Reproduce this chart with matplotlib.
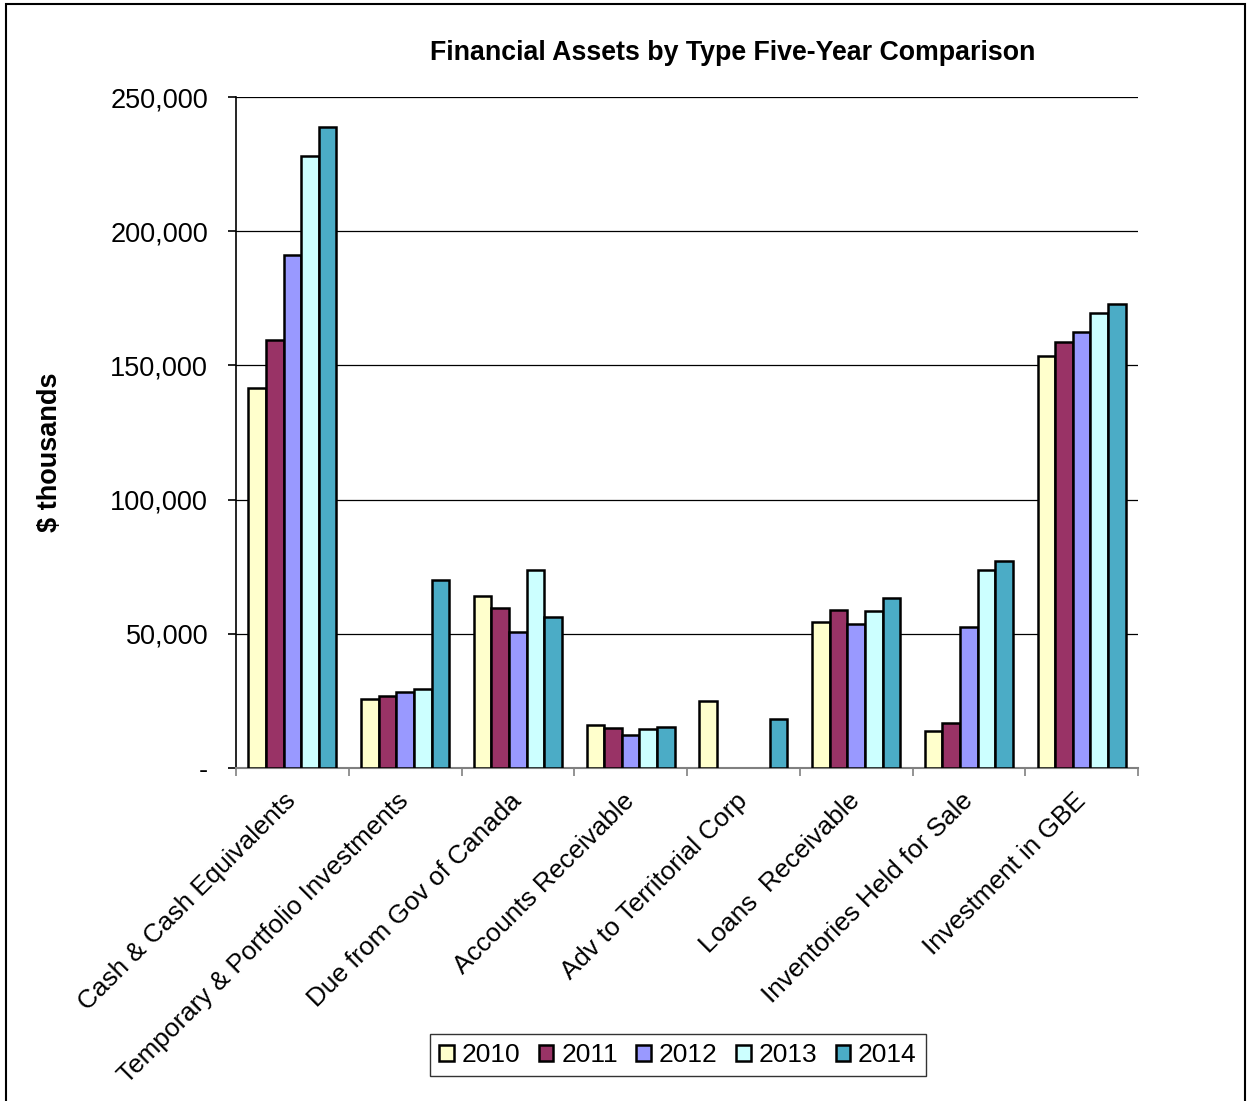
import matplotlib.pyplot as plt
import matplotlib.patches as patches
import numpy as np
from matplotlib.ticker import FuncFormatter

plt.rcParams['font.family'] = ['Liberation Sans', 'DejaVu Sans']

categories = ['Cash & Cash Equivalents', 'Temporary & Portfolio Investments',
              'Due from Gov of Canada', 'Accounts Receivable', 'Adv to Territorial Corp',
              'Loans  Receivable', 'Inventories Held for Sale', 'Investment in GBE']
years = ['2010', '2011', '2012', '2013', '2014']
# values in $ thousands
v2010 = [141600, 25700, 64100, 16000, 25000, 54400, 13800, 153500]
v2011 = [159500, 26800, 59600, 14900, 0, 58900, 16800, 158700]
v2012 = [191100, 28300, 50700, 12300, 0, 53700, 52500, 162400]
v2013 = [228000, 29400, 73800, 14500, 0, 58500, 73800, 169500]
v2014 = [238800, 70000, 56300, 15300, 18300, 63300, 77100, 172900]
colors = ['#FFFFCC', '#993366', '#9999FF', '#CCFFFF', '#4BACC6']

series = [v2010, v2011, v2012, v2013, v2014]

fig = plt.figure(figsize=(12.49, 11.01), dpi=100)
ax = fig.add_axes([236/1249, 1 - 768/1101, (1138-236)/1249, (768-97)/1101])

x = np.arange(len(categories))
w = 0.156
for i, vals in enumerate(series):
    vals = np.array(vals)
    mask = vals > 0
    ax.bar(x[mask] + (i - 2) * w, vals[mask], width=w, color=colors[i],
           edgecolor='black', linewidth=1.8, label=years[i], zorder=3)

ax.set_xlim(-0.5, len(categories) - 0.5)
ax.set_ylim(0, 250000)
ax.set_yticks(np.arange(0, 250001, 50000))
ax.yaxis.set_major_formatter(FuncFormatter(lambda v, p: '-' if v == 0 else f'{int(v):,}'))
ax.grid(axis='y', color='black', linewidth=0.9, zorder=0)

ax.set_xticks(x)
ax.set_xticklabels(categories, rotation=45, ha='right', va='center',
                   rotation_mode='anchor', fontsize=18.8)
ax.set_xticks(np.arange(-0.5, len(categories)), minor=True)
ax.tick_params(axis='x', which='major', length=0, pad=21)
ax.tick_params(axis='x', which='minor', length=6, color='#808080', width=1.2)
ax.tick_params(axis='y', length=6, width=1.2, labelsize=19.5, pad=14)

for s in ['top', 'right']:
    ax.spines[s].set_visible(False)
ax.spines['left'].set_color('black')
ax.spines['bottom'].set_color('#808080')
ax.spines['left'].set_linewidth(1.2)
ax.spines['bottom'].set_linewidth(1.5)

ax.set_ylabel('$ thousands', fontsize=19.5, fontweight='bold')
ax.yaxis.set_label_coords(-0.192, 0.471)

fig.text(733/1249, 1 - 53/1101, 'Financial Assets by Type Five-Year Comparison',
         ha='center', va='center', fontsize=19.3, fontweight='bold')

leg = fig.legend(loc='center', bbox_to_anchor=(678/1249, 1 - 1055/1101), ncol=5,
                 fontsize=19, frameon=True, fancybox=False, edgecolor='black',
                 handlelength=0.55, handleheight=0.55, handletextpad=0.3,
                 columnspacing=0.7, borderpad=0.35)
leg.get_frame().set_linewidth(1.0)

fig.patches.append(patches.Rectangle((6/1249, -0.01), 1239/1249, 1.01 - 4/1101,
                                     transform=fig.transFigure, fill=False,
                                     edgecolor='black', linewidth=1.5))

fig.savefig('out.png', dpi=100)
